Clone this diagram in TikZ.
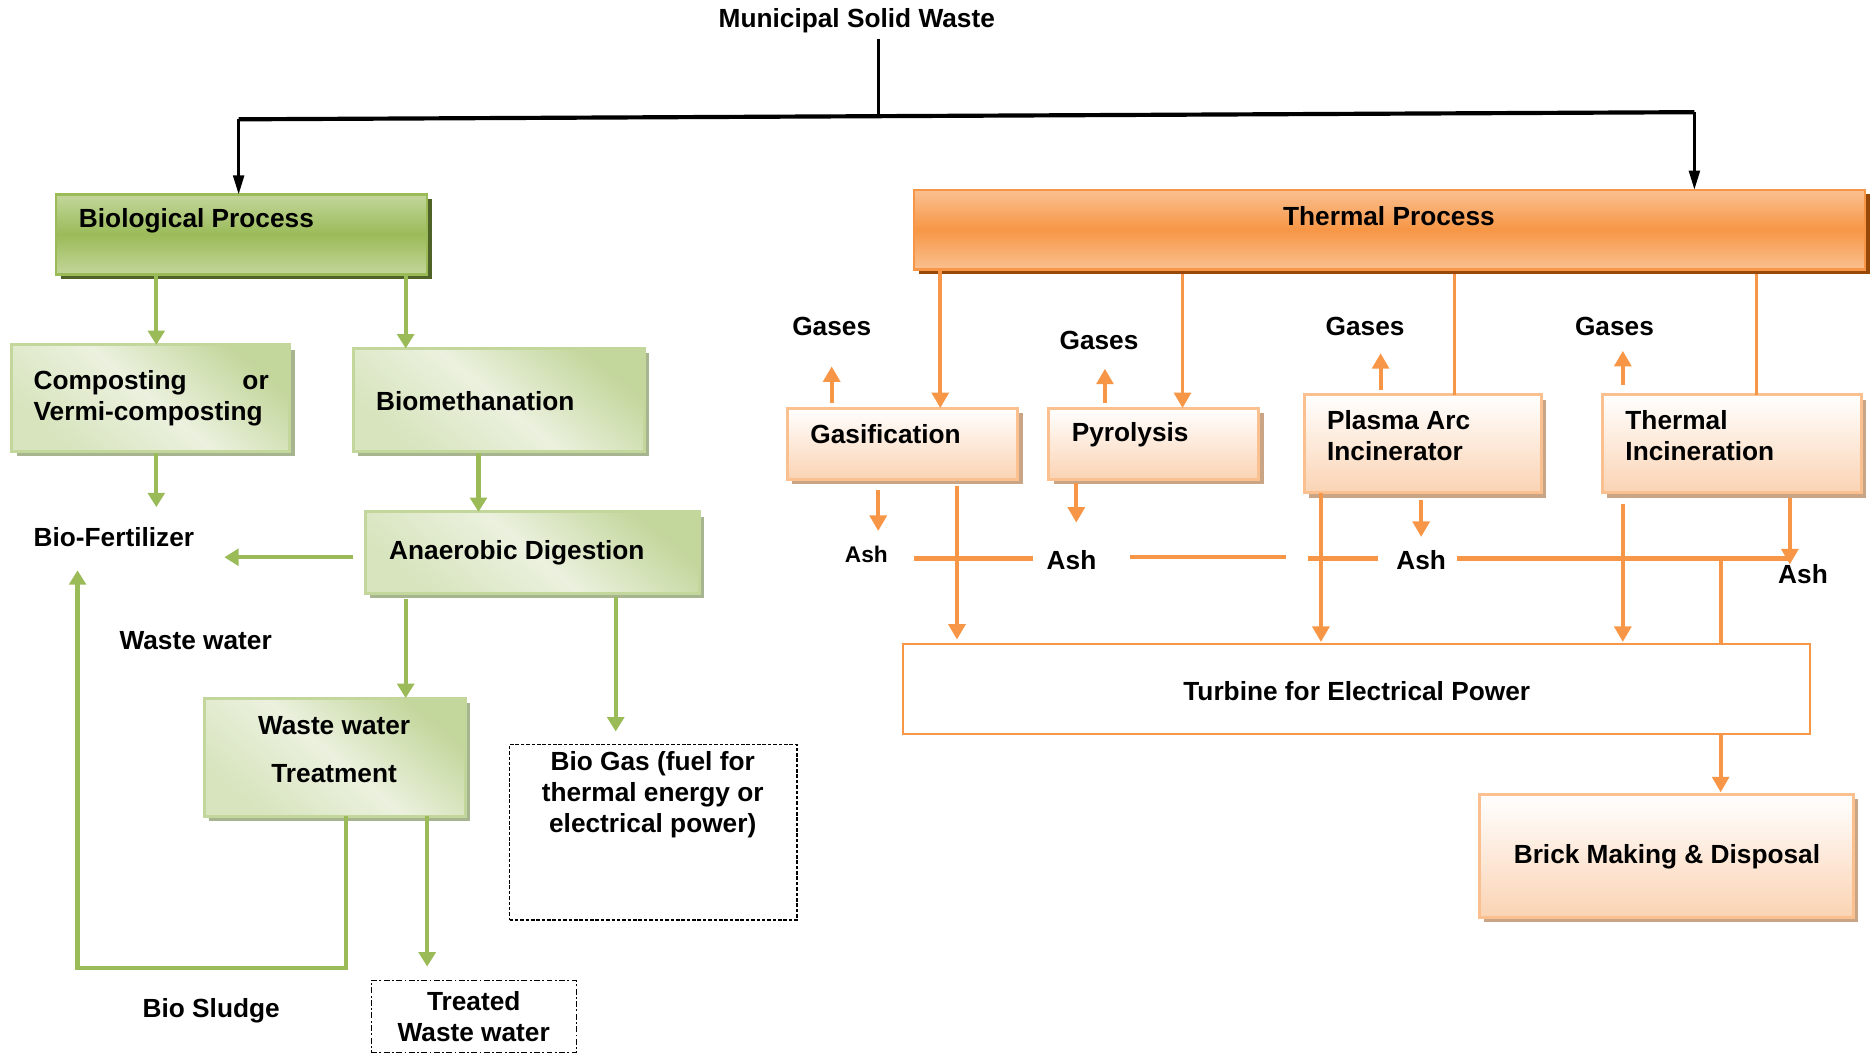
\documentclass[tikz,border=0pt]{standalone}
\usepackage{fontspec}
\setmainfont{Liberation Sans}
\usetikzlibrary{arrows.meta,shadows}

\definecolor{gline}{HTML}{9BBB59}
\definecolor{gdark}{HTML}{9BBB59}
\definecolor{glight}{HTML}{C3D69B}
\definecolor{gpale}{HTML}{EBF1DE}
\definecolor{gmid}{HTML}{D7E4BD}
\definecolor{gshadowA}{HTML}{4F6228}
\definecolor{gshadowB}{HTML}{A7B490}
\definecolor{oline}{HTML}{F79646}
\definecolor{olight}{HTML}{FAC090}
\definecolor{opale}{HTML}{FDE9D9}
\definecolor{obottom}{HTML}{FAD3B3}
\definecolor{oshadowA}{HTML}{984807}
\definecolor{oshadowB}{HTML}{C9A586}

\begin{document}
\begin{tikzpicture}[x=1pt,y=-1pt,
  txt/.style={font=\bfseries\fontsize{22}{26}\selectfont, inner sep=1pt, text=black},
  smalltxt/.style={font=\bfseries\fontsize{19}{22}\selectfont, inner sep=1pt, text=black},
  frame/.style={anchor=north west, inner sep=0pt, outer sep=0pt},
  greenhead/.style={frame, draw=gdark, line width=2pt, top color=glight, bottom color=glight, middle color=gdark,
    drop shadow={shadow xshift=4pt, shadow yshift=-4pt, fill=gshadowA, opacity=1}},
  greenbox/.style={frame, draw=glight, line width=2.5pt, shading=axis, top color=glight, bottom color=gmid, middle color=gpale, shading angle=-40,
    drop shadow={shadow xshift=4pt, shadow yshift=-4pt, fill=gshadowB, opacity=1}},
  orangehead/.style={frame, draw=oline, line width=2pt, top color=olight, bottom color=olight, middle color=oline,
    drop shadow={shadow xshift=4pt, shadow yshift=-4pt, fill=oshadowA, opacity=1}},
  orangebox/.style={frame, draw=olight, line width=2.5pt, top color=white, bottom color=obottom, middle color=opale,
    drop shadow={shadow xshift=4pt, shadow yshift=-4pt, fill=oshadowB, opacity=1}},
  plainbox/.style={frame, draw=oline, line width=1.5pt, fill=white},
  dashbox/.style={frame, draw=black, line width=1pt, dash pattern=on 3pt off 1.5pt},
  dashdotbox/.style={frame, draw=black, line width=1pt, dash pattern=on 5pt off 2pt on 1.5pt off 2pt},
  blk/.style={draw=black, line width=2.5pt},
  blkarr/.style={blk, -{Triangle[length=16pt,width=9pt]}},
  gpath/.style={draw=gline, line width=3.5pt},
  garr/.style={gpath, -{Triangle[length=12pt,width=14pt]}},
  opath/.style={draw=oline, line width=3.2pt},
  oarr/.style={opath, -{Triangle[length=13pt,width=14pt]}},
]
\useasboundingbox (0,0) rectangle (1568,883);

% ---------- boxes ----------
\node[greenhead, minimum width=311pt, minimum height=67pt] (bio) at (47,163) {};
\node[greenbox, minimum width=233pt, minimum height=89pt] (comp) at (10,289) {};
\node[greenbox, minimum width=244pt, minimum height=86pt] (bmeth) at (296,292) {};
\node[greenbox, minimum width=280pt, minimum height=68pt] (anae) at (306,429) {};
\node[greenbox, minimum width=219pt, minimum height=99pt] (wwt) at (171,585) {};
\node[dashdotbox, minimum width=172pt, minimum height=60pt] (treated) at (311,822) {};
\node[dashbox, minimum width=241pt, minimum height=147pt] (biogas) at (427,624) {};

\node[orangehead, minimum width=797pt, minimum height=67pt] (therm) at (766,159) {};
\node[orangebox, minimum width=193pt, minimum height=60pt] (gasi) at (660,342) {};
\node[orangebox, minimum width=176pt, minimum height=60pt] (pyro) at (879,342) {};
\node[orangebox, minimum width=199pt, minimum height=82pt] (plasma) at (1093,331) {};
\node[orangebox, minimum width=217pt, minimum height=82pt] (tinc) at (1343,331) {};
\node[plainbox, minimum width=760pt, minimum height=75pt] (turb) at (757,540) {};
\node[orangebox, minimum width=313pt, minimum height=103pt] (brick) at (1240,666) {};

% ---------- texts ----------
\node[txt] (msw) at (718,17) {Municipal Solid Waste};
\node[txt, anchor=west] (bioT) at (65,185) {Biological Process};
\node[txt, anchor=west, align=left] (compT) at (27,334) {\hbox to 197pt{Composting\hfill or}\\Vermi-composting};
\node[txt, anchor=west] (bmethT) at (314,336) {Biomethanation};
\node[txt, anchor=west] (anaeT) at (325,463) {Anaerobic Digestion};
\node[txt, align=center] (wwtT) at (280,628) {Waste water\\[14pt]Treatment};
\node[txt, align=center] (treatedT) at (397,852) {Treated\\Waste water};
\node[txt, align=center] (biogasT) at (547,666) {Bio Gas (fuel for\\thermal energy or\\electrical power)};
\node[txt, anchor=west] (biofert) at (27,450) {Bio-Fertilizer};
\node[txt] (wastew) at (164,537) {Waste water};
\node[txt] (sludge) at (177,847) {Bio Sludge};

\node[txt] (thermT) at (1164,181) {Thermal Process};
\node[txt, anchor=west] (gasiT) at (678,364) {Gasification};
\node[txt, anchor=west] (pyroT) at (897,364) {Pyrolysis};
\node[txt, anchor=west, align=left] (plasmaT) at (1111,365) {Plasma Arc\\Incinerator};
\node[txt, anchor=west, align=left] (tincT) at (1361,365) {Thermal\\Incineration};
\node[txt] (turbT) at (1137,579) {Turbine for Electrical Power};
\node[txt] (brickT) at (1397,718) {Brick Making \& Disposal};

\node[txt] (gas1) at (697,274) {Gases};
\node[txt] (gas2) at (921,285) {Gases};
\node[txt] (gas3) at (1144,274) {Gases};
\node[txt] (gas4) at (1353,274) {Gases};
\node[smalltxt] (ash1) at (726,465) {Ash};
\node[txt] (ash2) at (898,469) {Ash};
\node[txt] (ash3) at (1191,469) {Ash};
\node[txt] (ash4) at (1511,481) {Ash};

% ---------- split of the waste stream ----------
\coordinate (split) at (736,96);
\coordinate (lft) at (200,100);
\coordinate (rgt) at (1420,94);
\draw[blk, shorten <=4pt] ([xshift=18pt]msw.south) -- (split);
\draw[blk, line width=3.5pt] (lft) -- (rgt);
\draw[blkarr] (lft) -- (lft |- bio.north);
\draw[blkarr] (rgt) -- (rgt |- therm.north);

% ---------- biological branch ----------
\coordinate (bfTop) at (131,425);
\coordinate (bfRight) at (188,467);
\coordinate (slC) at (65,811);
\coordinate (bfBot) at (65,478);
\draw[garr] ([xshift=84pt]bio.south west) -- ([xshift=121pt]comp.north west);
\draw[garr] ([xshift=293pt]bio.south west) -- ([xshift=44pt]bmeth.north west);
\draw[garr, shorten <=2pt] ([xshift=121pt]comp.south west) -- (bfTop);
\draw[garr, shorten <=2pt] ([xshift=105pt]bmeth.south west) -- ([xshift=95pt]anae.north west);
\draw[garr] ([xshift=-10pt,yshift=-4pt]anae.west) -- (bfRight);
\draw[garr, line join=miter] ([xshift=119pt]wwt.south west) |- (slC) -- (bfBot);
\draw[garr, shorten <=5pt] ([xshift=34pt]anae.south west) -- ([xshift=169pt]wwt.north west);
\draw[garr, shorten <=3pt, shorten >=11pt] ([xshift=210pt]anae.south west) -- ([xshift=89pt]biogas.north west);
\draw[garr, shorten >=12pt] ([xshift=187pt]wwt.south west) -- ([xshift=47pt]treated.north west);

% ---------- thermal branch ----------
\draw[oarr] ([xshift=22pt]therm.south west) -- ([xshift=128pt]gasi.north west);
\draw[oarr, shorten <=4pt] ([xshift=225pt]therm.south west) -- ([xshift=112pt]pyro.north west);
\draw[opath, shorten <=4pt] ([xshift=453pt]therm.south west) -- ([xshift=126pt]plasma.north west);
\draw[opath, shorten <=4pt] ([xshift=706pt]therm.south west) -- ([xshift=129pt]tinc.north west);

% gases leaving the reactors
\coordinate (g1) at (697,307);
\coordinate (g2) at (926,309);
\coordinate (g3) at (1157,296);
\coordinate (g4) at (1360,294);
\draw[oarr, shorten <=4pt] ([xshift=37pt]gasi.north west) -- (g1);
\draw[oarr, shorten <=4pt] ([xshift=47pt]pyro.north west) -- (g2);
\draw[oarr, shorten <=4pt] ([xshift=64pt]plasma.north west) -- (g3);
\draw[oarr, shorten <=8pt] ([xshift=17pt]tinc.north west) -- (g4);

% ash leaving the reactors
\coordinate (d1) at (736,445);
\coordinate (d2) at (902,438);
\coordinate (d3) at (1191,450);
\coordinate (d4) at (1500,473);
\draw[oarr, shorten <=9pt] ([xshift=76pt]gasi.south west) -- (d1);
\draw[oarr, shorten <=3pt] ([xshift=23pt]pyro.south west) -- (d2);
\draw[oarr, shorten <=6pt] ([xshift=98pt]plasma.south west) -- (d3);
\draw[oarr, shorten <=4pt] ([xshift=157pt]tinc.south west) -- (d4);

% collecting ash line
\coordinate (a1) at (766,468);
\coordinate (a2) at (866,468);
\coordinate (a3) at (947,467);
\coordinate (a4) at (1078,467);
\coordinate (a5) at (1096,468);
\coordinate (a6) at (1155,468);
\coordinate (a7) at (1221,468);
\coordinate (a8) at (1500,468);
\coordinate (ashJ) at (1442,468);
\draw[opath, line width=3.5pt] (a1) -- (a2);
\draw[opath, line width=3.5pt] (a3) -- (a4);
\draw[opath, line width=3.5pt] (a5) -- (a6);
\draw[opath, line width=3.5pt] (a7) -- (a8);

% feeds to the turbine
\draw[oarr, shorten <=5pt, shorten >=4pt] ([xshift=142pt]gasi.south west) -- ([xshift=45pt]turb.north west);
\draw[oarr, shorten >=2pt] ([xshift=14pt]plasma.south west) -- ([xshift=350pt]turb.north west);
\draw[oarr, shorten <=9pt, shorten >=2pt] ([xshift=17pt]tinc.south west) -- ([xshift=603pt]turb.north west);
\draw[opath] (ashJ) -- ([xshift=685pt]turb.north west);
\draw[oarr, shorten >=2pt] ([xshift=685pt]turb.south west) -- ([xshift=202pt]brick.north west);
\end{tikzpicture}
\end{document}
